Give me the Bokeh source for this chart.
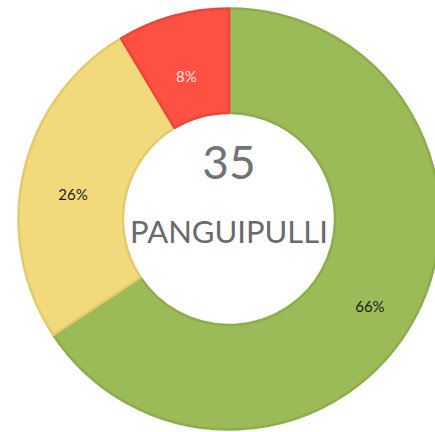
import math
from bokeh.plotting import figure
from bokeh.models import Range1d, ColumnDataSource
from bokeh.core.properties import value
from bokeh.embed import file_html
from bokeh.resources import INLINE

# data
categories = ["Verde", "Amarillo", "Rojo"]
counts = [23, 9, 3]
labels = ["66%", "26%", "8%"]
center_value = "35"
center_name = "PANGUIPULLI"

fills = ["#9BBB59", "#F2DA7C", "#FE5043"]
borders = ["#8DAD4D", "#E3CA6C", "#EA463A"]
label_colors = ["#1a1a1a", "#1a1a1a", "#FFE6E0"]

W, H = 435, 432
cx, cy = 228.5, -218.5
r_out, r_in = 210.5, 106.0
r_lab = 160

total = sum(counts)
starts, ends, lx, ly = [], [], [], []
cum = 0.0
for c in counts:
    a0 = math.pi / 2 - 2 * math.pi * cum / total
    cum += c
    a1 = math.pi / 2 - 2 * math.pi * cum / total
    starts.append(a0)
    ends.append(a1)
    mid = (a0 + a1) / 2
    lx.append(cx + r_lab * math.cos(mid))
    ly.append(cy + r_lab * math.sin(mid))

src = ColumnDataSource(dict(cat=categories, start=starts, end=ends,
                            fill=fills, line=borders,
                            lx=lx, ly=ly, lab=labels, lc=label_colors))

p = figure(width=W, height=H, output_backend="svg", toolbar_location=None,
           x_range=Range1d(0, W), y_range=Range1d(-H, 0),
           min_border=0, tools="")
p.axis.visible = False
p.grid.visible = False
p.outline_line_color = None
p.background_fill_color = "white"

p.annular_wedge(x=cx, y=cy, inner_radius=r_in, outer_radius=r_out,
                start_angle="start", end_angle="end", direction="clock",
                fill_color="fill", line_color="line", line_width=2.5,
                source=src)

p.text(x="lx", y="ly", text="lab", text_color="lc", text_align="center",
       text_baseline="middle", text_font=value("Lato"), y_offset=11,
       text_font_size="15px", source=src)

p.text(x=[cx], y=[-162], text=[center_value], text_align="center",
       text_baseline="middle", text_font=value("Lato"),
       text_font_style="normal", text_font_size="46px", text_color="#737373")
p.text(x=[cx], y=[-230], text=[center_name], text_align="center",
       text_baseline="middle", text_font=value("Lato"),
       text_font_size="31px", text_color="#6a6a6a")

open("out.html", "w").write(file_html(p, INLINE))
